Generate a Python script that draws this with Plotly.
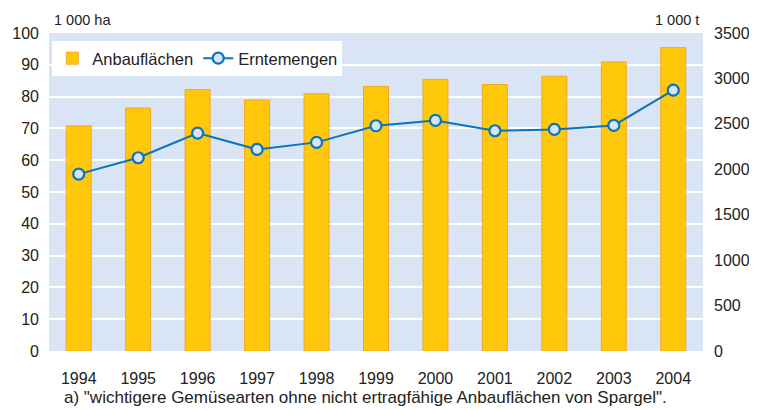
import plotly.graph_objects as go

years = ["1994", "1995", "1996", "1997", "1998", "1999", "2000", "2001", "2002", "2003", "2004"]
anbauflaechen = [70.8, 76.4, 82.2, 78.9, 80.9, 83.2, 85.4, 83.8, 86.4, 90.9, 95.4]
erntemengen = [1947, 2127, 2398, 2219, 2296, 2479, 2538, 2424, 2439, 2483, 2871]

fig = go.Figure()
fig.add_trace(go.Bar(
    x=years, y=anbauflaechen, name="Anbauflächen",
    marker=dict(color="#FFC80B", line=dict(color="#F5A623", width=1)),
    width=0.42, yaxis="y",
))
fig.add_trace(go.Scatter(
    x=years, y=erntemengen, name="Erntemengen", mode="lines+markers",
    line=dict(color="#0A74BC", width=2),
    marker=dict(size=11, color="#D6E4F4", line=dict(color="#0A74BC", width=2.2)),
    yaxis="y2",
))

font = "Liberation Sans, Arial, sans-serif"
# page body has an 8px margin: figure is 8px smaller and margins shifted
fig.update_layout(
    width=749, height=402,
    margin=dict(l=41, r=54, t=25, b=59, autoexpand=False),
    paper_bgcolor="white", plot_bgcolor="#D9E4F4",
    font=dict(family=font, size=16, color="#222222"),
    showlegend=True,
    legend=dict(orientation="h", x=0.005, y=0.975, xanchor="left", yanchor="top",
                bgcolor="white", font=dict(size=16.5, color="#222222"),
                tracegroupgap=0, itemwidth=30),
    bargap=0.58,
    xaxis=dict(showgrid=False, ticks="", tickfont=dict(size=16), zeroline=False,
               ticklabelstandoff=16, range=[-0.5, len(years) - 0.5]),
    yaxis=dict(range=[0, 100], dtick=10, gridcolor="white", gridwidth=2,
               zeroline=False, ticks="", tickfont=dict(size=16), ticklabelstandoff=9),
    yaxis2=dict(range=[0, 3500], dtick=500, overlaying="y", side="right",
                showgrid=False, zeroline=False, ticks="", tickfont=dict(size=16),
                ticklabelstandoff=10),
    annotations=[
        dict(text="1 000 ha", x=0.005, y=1.0, xref="paper", yref="paper",
             xanchor="left", yanchor="bottom", yshift=3, showarrow=False,
             font=dict(size=14.5, color="#222222")),
        dict(text="1 000 t", x=0.997, y=1.0, xref="paper", yref="paper",
             xanchor="right", yanchor="bottom", yshift=3, showarrow=False,
             font=dict(size=14.5, color="#222222")),
        dict(text="a) \"wichtigere Gemüsearten ohne nicht ertragfähige Anbauflächen von Spargel\".",
             x=0.02, y=0, xref="paper", yref="paper", xanchor="left", yanchor="bottom",
             yshift=-58, showarrow=False, font=dict(size=17, color="#222222")),
    ],
)
fig.write_html("out.html")
